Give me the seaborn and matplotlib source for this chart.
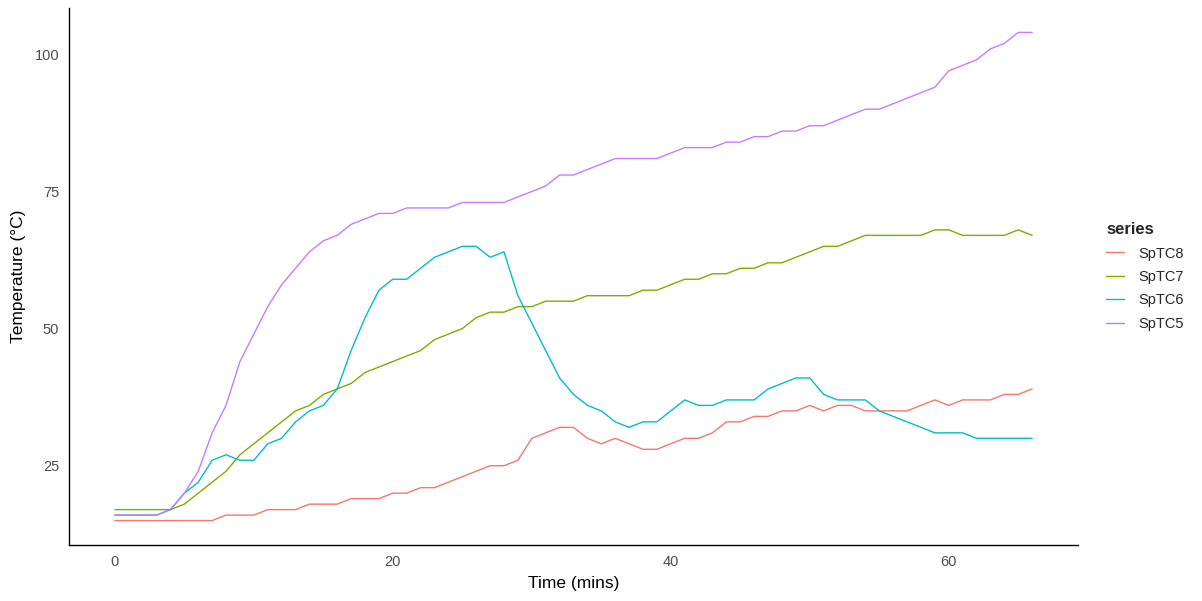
import numpy as np
import pandas as pd
import seaborn as sns
import matplotlib.pyplot as plt

# Datos (un punto por minuto, 0..66)
time_mins = list(range(0, 67))

sptc8 = [15, 15, 15, 15, 15, 15, 15, 15, 16, 16, 16, 17, 17, 17, 18, 18, 18,
         19, 19, 19, 20, 20, 21, 21, 22, 23, 24, 25, 25, 26, 30, 31, 32, 32,
         30, 29, 30, 29, 28, 28, 29, 30, 30, 31, 33, 33, 34, 34, 35, 35, 36,
         35, 36, 36, 35, 35, 35, 35, 36, 37, 36, 37, 37, 37, 38, 38, 39]

sptc7 = [17, 17, 17, 17, 17, 18, 20, 22, 24, 27, 29, 31, 33, 35, 36, 38, 39,
         40, 42, 43, 44, 45, 46, 48, 49, 50, 52, 53, 53, 54, 54, 55, 55, 55,
         56, 56, 56, 56, 57, 57, 58, 59, 59, 60, 60, 61, 61, 62, 62, 63, 64,
         65, 65, 66, 67, 67, 67, 67, 67, 68, 68, 67, 67, 67, 67, 68, 67]

sptc6 = [16, 16, 16, 16, 17, 20, 22, 26, 27, 26, 26, 29, 30, 33, 35, 36, 39,
         46, 52, 57, 59, 59, 61, 63, 64, 65, 65, 63, 64, 56, 51, 46, 41, 38,
         36, 35, 33, 32, 33, 33, 35, 37, 36, 36, 37, 37, 37, 39, 40, 41, 41,
         38, 37, 37, 37, 35, 34, 33, 32, 31, 31, 31, 30, 30, 30, 30, 30]

sptc5 = [16, 16, 16, 16, 17, 20, 24, 31, 36, 44, 49, 54, 58, 61, 64, 66, 67,
         69, 70, 71, 71, 72, 72, 72, 72, 73, 73, 73, 73, 74, 75, 76, 78, 78,
         79, 80, 81, 81, 81, 81, 82, 83, 83, 83, 84, 84, 85, 85, 86, 86, 87,
         87, 88, 89, 90, 90, 91, 92, 93, 94, 97, 98, 99, 101, 102, 104, 104]

series_names = ["SpTC8", "SpTC7", "SpTC6", "SpTC5"]
colores = ["#F8766D", "#7CAE00", "#00BFC4", "#C77CFF"]

# Pasar a formato largo para seaborn
df = pd.DataFrame({
    "time": time_mins * 4,
    "value": sptc8 + sptc7 + sptc6 + sptc5,
    "series": np.repeat(series_names, len(time_mins)),
})

sns.set_style("white")
plt.rcParams["font.family"] = ["Liberation Sans", "DejaVu Sans"]

fig = plt.figure(figsize=(12.02, 6.01), dpi=100)
ax = fig.add_axes([69 / 1202, 1 - 545 / 601, (1078 - 69) / 1202, (545 - 8) / 601])

sns.lineplot(data=df, x="time", y="value", hue="series", hue_order=series_names,
             palette=colores, linewidth=1.0, ax=ax, legend=True)

# Escalas como ggplot (expansion 5%)
xmin, xmax = 0, 66
ymin, ymax = 15, 104
ax.set_xlim(xmin - 0.05 * (xmax - xmin), xmax + 0.05 * (xmax - xmin))
ax.set_ylim(ymin - 0.05 * (ymax - ymin), ymax + 0.05 * (ymax - ymin))
ax.set_xticks([0, 20, 40, 60])
ax.set_yticks([25, 50, 75, 100])

ax.set_xlabel("Time (mins)", fontsize=12.5, color="black", labelpad=5)
ax.set_ylabel("Temperature (°C)", fontsize=12.5, color="black", labelpad=6)

for side in ["top", "right"]:
    ax.spines[side].set_visible(False)
for side in ["left", "bottom"]:
    ax.spines[side].set_color("black")
    ax.spines[side].set_linewidth(1.0)

ax.tick_params(axis="both", which="major", length=4, width=0.8, color="#333333",
               labelcolor="#4D4D4D", labelsize=10.5, pad=3, direction="out")

# Leyenda a la derecha
leg = ax.legend(title="series", loc="center left", bbox_to_anchor=(1.015, 0.50),
                frameon=False, fontsize=10.5, title_fontsize=12, handlelength=1.25,
                handletextpad=0.95, labelspacing=0.65)
leg.get_title().set_fontweight("bold")
leg._legend_box.align = "left"

fig.savefig("out.png", dpi=100)
